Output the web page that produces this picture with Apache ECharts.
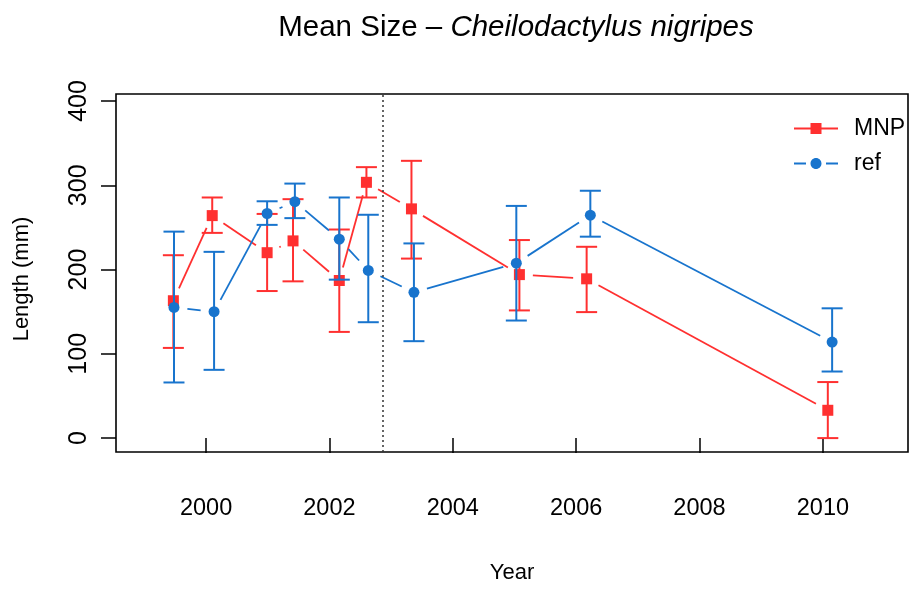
<!DOCTYPE html>
<html>
<head>
<meta charset="utf-8">
<script src="https://cdn.jsdelivr.net/npm/echarts@6/dist/echarts.min.js"></script>
<style>html,body{margin:0;padding:0;background:#fff}#c{width:914px;height:589px}</style>
</head>
<body>
<div id="c"></div>
<script>
// ---- data ----
const mnpYears = [1999.47, 2000.10, 2000.99, 2001.41, 2002.16, 2002.60, 2003.33, 2005.08, 2006.17, 2010.08];
const mnpMean  = [163, 264, 220, 234, 187, 303.5, 272, 194, 189, 33];
const mnpLow   = [107, 243.5, 174.5, 186, 126, 285.5, 213, 151.5, 149.5, 0];
const mnpHigh  = [217, 285.5, 266, 283.5, 247.5, 321.5, 329, 235, 227, 66.5];

const refYears = [1999.48, 2000.13, 2000.99, 2001.44, 2002.16, 2002.63, 2003.37, 2005.03, 2006.23, 2010.15];
const refMean  = [155, 150, 266.5, 280.5, 236, 199, 173, 207.5, 264.5, 114];
const refLow   = [66, 81, 253, 261, 188, 137.5, 115, 139.5, 239, 79];
const refHigh  = [245, 221, 281, 302, 285.5, 265, 231, 275.5, 293.5, 154];

const xTicks = [2000, 2002, 2004, 2006, 2008, 2010];
const yTicks = [0, 100, 200, 300, 400];
const dividerYear = 2002.87;

const seriesNames = ['MNP', 'ref'];
const titleMain = 'Mean Size – ';
const titleItalic = 'Cheilodactylus nigripes';
const xName = 'Year';
const yName = 'Length (mm)';

// ---- styling ----
const RED = '#FF3030';
const BLUE = '#1874CD';
const SANS = '"Liberation Sans", Arial, sans-serif';
const GAP = 13.5;

function pts(xs, ys) { return xs.map((x, i) => [x, ys[i]]); }
function segs(xs, ys) {
  const out = [];
  for (let i = 0; i < xs.length - 1; i++) out.push([xs[i], ys[i], xs[i + 1], ys[i + 1]]);
  return out;
}
function bars(xs, lo, hi) { return xs.map((x, i) => [x, lo[i], hi[i]]); }

function segRender(color) {
  return function (params, api) {
    const a = api.coord([api.value(0), api.value(1)]);
    const b = api.coord([api.value(2), api.value(3)]);
    const dx = b[0] - a[0], dy = b[1] - a[1];
    const len = Math.sqrt(dx * dx + dy * dy);
    if (len <= 2 * GAP) return null;
    const ux = dx / len, uy = dy / len;
    return {
      type: 'line',
      shape: { x1: a[0] + ux * GAP, y1: a[1] + uy * GAP, x2: b[0] - ux * GAP, y2: b[1] - uy * GAP },
      style: { stroke: color, lineWidth: 1.8 }
    };
  };
}
function barRender(color) {
  return function (params, api) {
    const x = api.value(0);
    const lo = api.coord([x, api.value(1)]);
    const hi = api.coord([x, api.value(2)]);
    const w = 10.5;
    const st = { stroke: color, lineWidth: 2 };
    return {
      type: 'group',
      children: [
        { type: 'line', shape: { x1: lo[0], y1: lo[1], x2: hi[0], y2: hi[1] }, style: st },
        { type: 'line', shape: { x1: lo[0] - w, y1: lo[1], x2: lo[0] + w, y2: lo[1] }, style: st },
        { type: 'line', shape: { x1: hi[0] - w, y1: hi[1], x2: hi[0] + w, y2: hi[1] }, style: st }
      ]
    };
  };
}

const iconRed = 'path://M0,4.6H44V6.4H0Z M16.5,0H27.5V11H16.5Z';
const iconBlue = 'path://M0,4.6H12V6.4H0Z M32,4.6H44V6.4H32Z M16.5,5.5C16.5,2.46 18.96,0 22,0C25.04,0 27.5,2.46 27.5,5.5C27.5,8.54 25.04,11 22,11C18.96,11 16.5,8.54 16.5,5.5Z';

const chart = echarts.init(document.getElementById('c'), null, { renderer: 'canvas' });
chart.setOption({
  animation: false,
  backgroundColor: '#fff',
  title: {
    text: '{a|' + titleMain + '}{b|' + titleItalic + '}',
    left: 511, top: 8, textAlign: 'center',
    textStyle: {
      fontWeight: 'normal',
      rich: {
        a: { fontSize: 29.5, fontFamily: SANS, fontWeight: 'normal', color: '#000' },
        b: { fontSize: 29.5, fontFamily: SANS, fontWeight: 'normal', fontStyle: 'italic', color: '#000' }
      }
    }
  },
  legend: {
    orient: 'vertical', left: 789, top: 112,
    itemWidth: 44, itemHeight: 11, itemGap: 12,
    selectedMode: false,
    data: [{ name: seriesNames[0], icon: iconRed }, { name: seriesNames[1], icon: iconBlue }],
    textStyle: { fontSize: 23, fontFamily: SANS, color: '#000', padding: [0, 0, 0, 11] }
  },
  grid: {
    left: 116, right: 6, top: 94, bottom: 134,
    show: true, borderColor: '#000', borderWidth: 1.6, backgroundColor: 'transparent'
  },
  xAxis: {
    type: 'value', min: 1998.54, max: 2011.38,
    name: xName, nameLocation: 'middle', nameGap: 110,
    nameTextStyle: { fontSize: 22, fontFamily: SANS, color: '#000' },
    axisLine: { show: false },
    axisTick: { show: true, customValues: xTicks, length: 15, lineStyle: { color: '#000', width: 1.5 } },
    axisLabel: { customValues: xTicks, formatter: v => String(v), fontSize: 23.5, fontFamily: SANS, color: '#000', margin: 45 },
    splitLine: { show: false }
  },
  yAxis: {
    type: 'value', min: -16.5, max: 408.3,
    name: yName, nameLocation: 'middle', nameGap: 83,
    nameTextStyle: { fontSize: 22, fontFamily: SANS, color: '#000', padding: [0, 12, 0, 0] },
    axisLine: { show: false },
    axisTick: { show: true, customValues: yTicks, length: 15, lineStyle: { color: '#000', width: 1.5 } },
    axisLabel: { customValues: yTicks, formatter: v => String(v), rotate: 90, fontSize: 25, fontFamily: SANS, color: '#000', margin: 24 },
    splitLine: { show: false }
  },
  series: [
    { type: 'custom', name: 'mnpBars', renderItem: barRender(RED), data: bars(mnpYears, mnpLow, mnpHigh), z: 2, silent: true,
      markLine: { silent: true, symbol: 'none', label: { show: false },
        lineStyle: { color: '#333', type: [2, 3], width: 1.5 }, data: [{ xAxis: dividerYear }] } },
    { type: 'custom', name: 'mnpSegs', renderItem: segRender(RED), data: segs(mnpYears, mnpMean), z: 2, silent: true },
    { type: 'scatter', name: seriesNames[0], data: pts(mnpYears, mnpMean), symbol: 'rect', symbolSize: 11, itemStyle: { color: RED, opacity: 1 }, z: 3 },
    { type: 'custom', name: 'refBars', renderItem: barRender(BLUE), data: bars(refYears, refLow, refHigh), z: 4, silent: true },
    { type: 'custom', name: 'refSegs', renderItem: segRender(BLUE), data: segs(refYears, refMean), z: 4, silent: true },
    { type: 'scatter', name: seriesNames[1], data: pts(refYears, refMean), symbol: 'circle', symbolSize: 11, itemStyle: { color: BLUE, opacity: 1 }, z: 5 }
  ]
});
</script>
</body>
</html>
